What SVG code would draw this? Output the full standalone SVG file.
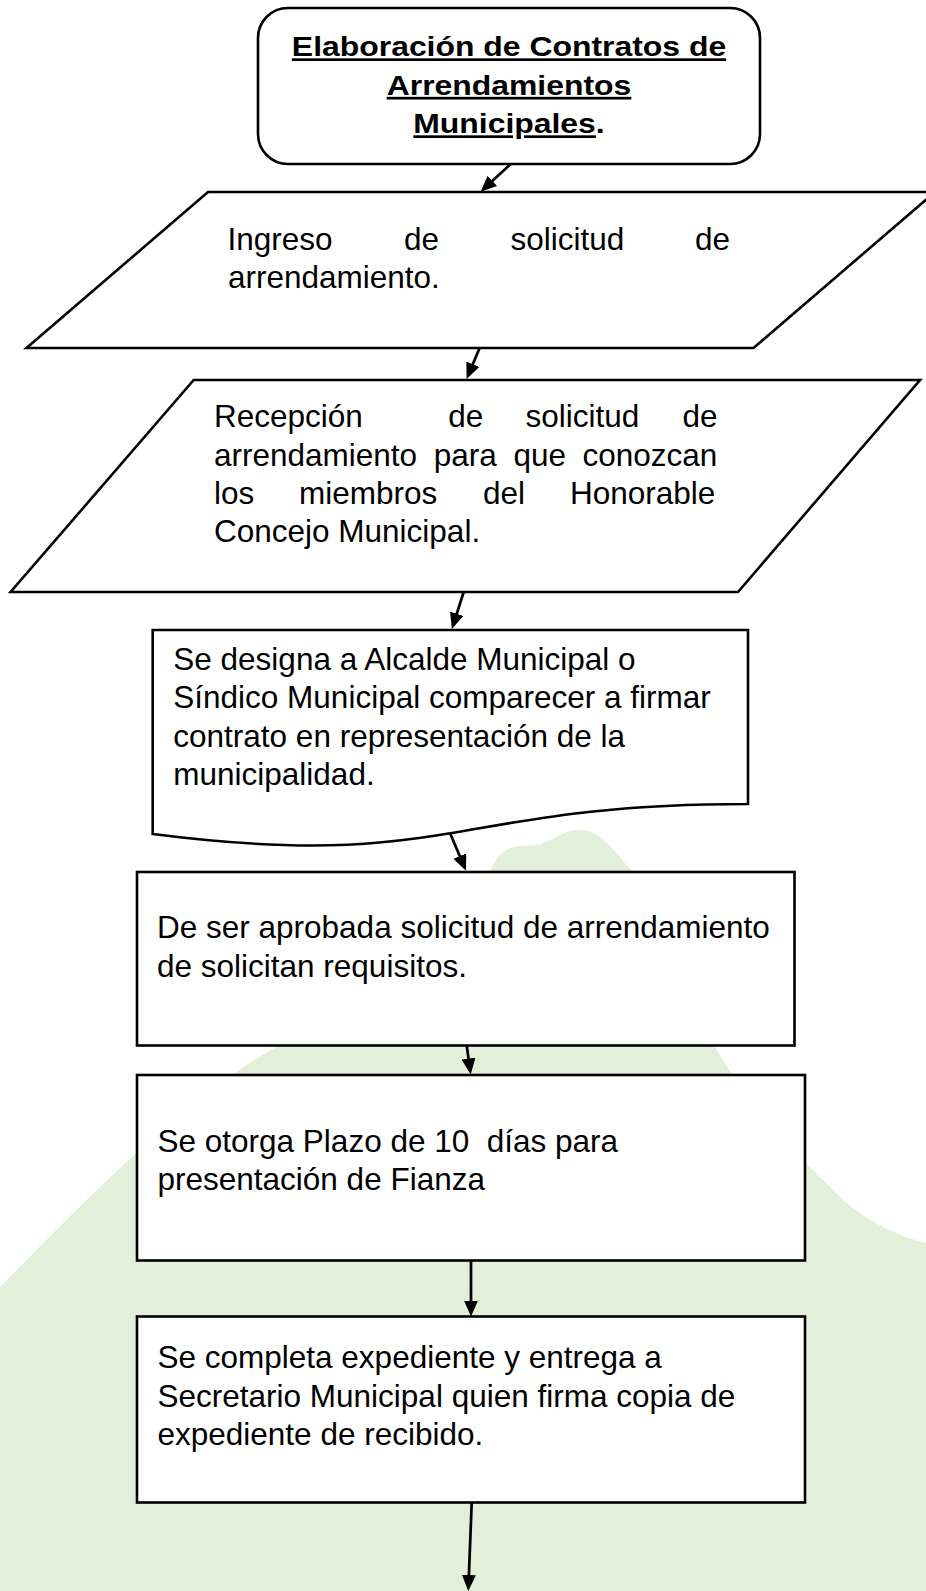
<svg xmlns="http://www.w3.org/2000/svg" width="926" height="1591" viewBox="0 0 926 1591">
<defs>
<style>
.shape{fill:#ffffff;stroke:#000000;stroke-width:2.6;stroke-linejoin:miter}
.txt{font-family:'Liberation Sans',Arial,Helvetica,sans-serif;font-size:31.5px;fill:#000000}
.title{font-family:'Liberation Sans',Arial,Helvetica,sans-serif;font-size:27px;font-weight:bold;fill:#000000;text-anchor:middle}
.u{text-decoration:underline}
.conn{fill:none;stroke:#000000;stroke-width:2.75}
</style>
<marker id="arrow" viewBox="0 0 16 14" refX="8" refY="7" markerWidth="16" markerHeight="14" markerUnits="userSpaceOnUse" orient="auto">
<path d="M0,0 L16,7 L0,14 Z" fill="#000000"/>
</marker>
</defs>
<rect x="0" y="0" width="926" height="1591" fill="#ffffff"/>
<g id="background">
<path d="M490,872 C496,856 505,847 520,846 L540,845 C555,838 565,830 580,830 C592,830 600,836 610,846 L633,872 L715,1047 C745,1100 790,1150 851,1207 C880,1228 905,1238 926,1243 L926,1591 L0,1591 L0,1287 C100,1185 190,1095 278,1046 Z" fill="#E2F0D9"/>
</g>
<g id="node-start">
<rect class="shape" x="258" y="8" width="502" height="156" rx="30" ry="30"/>
<g transform="translate(509 0) scale(1.182 1)">
<text class="title" x="0" y="56.5"><tspan class="u">Elaboración de Contratos de</tspan></text>
<text class="title" x="0" y="95"><tspan class="u">Arrendamientos</tspan></text>
<text class="title" x="0" y="133.5"><tspan class="u">Municipales</tspan>.</text>
</g>
</g>
<g id="node-ingreso">
<polygon class="shape" points="208,192 935,192 753.5,348 26.5,348"/>
<text class="txt" y="250"><tspan x="227.5">Ingreso</tspan><tspan x="404">de</tspan><tspan x="510.5">solicitud</tspan><tspan x="695">de</tspan></text>
<text class="txt" x="228" y="288.3">arrendamiento.</text>
</g>
<g id="node-recepcion">
<polygon class="shape" points="193.7,380 920,380 738,592 10.6,592"/>
<text class="txt" y="427.3"><tspan x="214">Recepción</tspan><tspan x="448.2">de</tspan><tspan x="525.5">solicitud</tspan><tspan x="682.5">de</tspan></text>
<text class="txt" y="465.6"><tspan x="214">arrendamiento</tspan><tspan x="433.8">para</tspan><tspan x="513.5">que</tspan><tspan x="582.5">conozcan</tspan></text>
<text class="txt" y="504"><tspan x="214">los</tspan><tspan x="299">miembros</tspan><tspan x="483">del</tspan><tspan x="570">Honorable</tspan></text>
<text class="txt" x="214" y="542.4">Concejo Municipal.</text>
</g>
<g id="node-designa">
<path class="shape" d="M152.7,630 L748,630 L748,804 C450,804 450,872 152.7,834 Z"/>
<text class="txt" x="173.3" y="670">Se designa a Alcalde Municipal o</text>
<text class="txt" x="173.3" y="708.3">Síndico Municipal comparecer a firmar</text>
<text class="txt" x="173.3" y="746.7">contrato en representación de la</text>
<text class="txt" x="173.3" y="785">municipalidad.</text>
</g>
<g id="node-aprobada">
<rect class="shape" x="137" y="872" width="657.5" height="173.5"/>
<text class="txt" x="157" y="938.3">De ser aprobada solicitud de arrendamiento</text>
<text class="txt" x="157" y="976.7">de solicitan requisitos.</text>
</g>
<g id="node-plazo">
<rect class="shape" x="137" y="1075" width="668" height="185.5"/>
<text class="txt" x="157.5" y="1151.7" xml:space="preserve">Se otorga Plazo de 10  días para</text>
<text class="txt" x="157.5" y="1190">presentación de Fianza</text>
</g>
<g id="node-expediente">
<rect class="shape" x="137" y="1316.5" width="668" height="186"/>
<text class="txt" x="157.5" y="1368.3">Se completa expediente y entrega a</text>
<text class="txt" x="157.5" y="1406.6">Secretario Municipal quien firma copia de</text>
<text class="txt" x="157.5" y="1445">expediente de recibido.</text>
</g>
<g id="connectors">
<path class="conn" marker-end="url(#arrow)" d="M510.8,164 L486.5,186.3"/>
<path class="conn" marker-end="url(#arrow)" d="M479.6,348 L469.7,371.6"/>
<path class="conn" marker-end="url(#arrow)" d="M463.7,592 L454.3,621.4"/>
<path class="conn" marker-end="url(#arrow)" d="M450,833 L462.9,863.5"/>
<path class="conn" marker-end="url(#arrow)" d="M466.7,1045.5 L469.6,1066.5"/>
<path class="conn" marker-end="url(#arrow)" d="M471,1260.5 L471,1308.5"/>
<path class="conn" marker-end="url(#arrow)" d="M471.7,1502.5 L468.6,1583"/>
</g>
</svg>
